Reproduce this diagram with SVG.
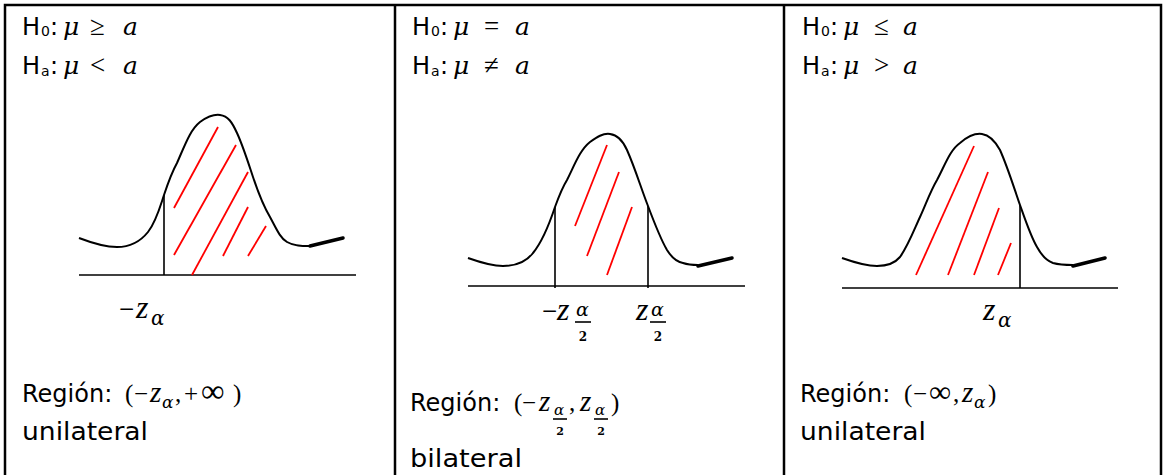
<svg xmlns="http://www.w3.org/2000/svg" width="1164" height="475" viewBox="0 0 1164 475">
<style>
.t{font-family:"DejaVu Sans","Liberation Sans",sans-serif;font-size:24px;fill:#000}
.s{font-family:"DejaVu Sans","Liberation Sans",sans-serif;font-size:14px;fill:#000}
.m{font-family:"DejaVu Serif","Liberation Serif",serif;font-style:italic;font-size:25px;fill:#000}
.z{font-family:"Liberation Serif","DejaVu Serif",serif;font-style:italic;font-size:29px;fill:#000}
.ms{font-family:"DejaVu Serif","Liberation Serif",serif;font-style:italic;font-size:17px;fill:#000}
.o{font-family:"Liberation Serif","DejaVu Serif",serif;font-size:27px;fill:#000}
.d{font-family:"DejaVu Serif","Liberation Serif",serif;font-size:12px;font-weight:bold;fill:#000}
.curve{fill:none;stroke:#000;stroke-width:2}
.tail{fill:none;stroke:#000;stroke-width:3.5;stroke-linecap:round}
.axis{stroke:#000;stroke-width:1.6}
.vl{stroke:#000;stroke-width:1.6}
.hatch{stroke:#ff0000;stroke-width:1.8}
.bar{stroke:#000;stroke-width:1.6}
.frame{fill:none;stroke:#000;stroke-width:2.5}
</style>
<g id="table">
<rect class="frame" x="5" y="5" width="1156" height="475"/>
<line class="frame" x1="395" y1="5" x2="395" y2="475"/>
<line class="frame" x1="784" y1="5" x2="784" y2="475"/>
</g>
<g id="panel1">
<text class="t" x="22" y="35">H</text><text class="s" x="41" y="36">0</text><text class="t" x="50" y="35">:</text>
<text class="m" x="63" y="35">μ</text><text class="o" x="90" y="35">≥</text><text class="m" x="123" y="35">a</text>
<text class="t" x="22" y="74">H</text><text class="s" x="41" y="76">a</text><text class="t" x="50" y="74">:</text>
<text class="m" x="63" y="74">μ</text><text class="o" x="90" y="74">&lt;</text><text class="m" x="123" y="74">a</text>
<line class="axis" x1="79" y1="275" x2="356" y2="275"/>
<line class="vl" x1="164" y1="195" x2="164" y2="275"/>
<path class="curve" d="M79,238 C92,243 105,247 117,247 C130,247 140,242 148,232 C156,222 160,207 164,195 C168,183 172,172 177,163 C185,145 190,130 200,122 C207,117 213,114 220,115 C228,116 232,122 237,133 C243,146 248,162 253,177 C258,192 264,207 270,217 C276,228 280,238 287,242 C294,246 302,246 310,246"/>
<path class="tail" d="M310,246 L343,238"/>
<line class="hatch" x1="174" y1="208" x2="218" y2="127"/>
<line class="hatch" x1="174" y1="255" x2="236" y2="145"/>
<line class="hatch" x1="192" y1="275" x2="248" y2="172"/>
<line class="hatch" x1="223" y1="256" x2="248" y2="207"/>
<line class="hatch" x1="248" y1="256" x2="266" y2="226"/>
<text class="o" x="119" y="318">−</text><text class="z" x="136" y="318" style="font-size:32px">z</text><text class="ms" x="151" y="325" style="font-size:20px">α</text>
<text class="t" x="22" y="402">Región:</text>
<text class="o" x="125" y="402" style="font-size:25px">(</text><text class="o" x="134" y="402" style="font-size:25px">−</text><text class="z" x="150" y="402">z</text><text class="ms" x="162" y="408">α</text><text class="o" x="175" y="402" style="font-size:25px">,</text><text class="o" x="184" y="402" style="font-size:25px">+</text><text class="o" x="201" y="402" style="font-size:33px">∞</text><text class="o" x="233" y="402" style="font-size:25px">)</text>
<text class="t" x="22" y="440" textLength="126" lengthAdjust="spacingAndGlyphs">unilateral</text>
</g>
<g id="panel2">
<text class="t" x="412" y="35">H</text><text class="s" x="431" y="36">0</text><text class="t" x="440" y="35">:</text>
<text class="m" x="453" y="35">μ</text><text class="o" x="484" y="35">=</text><text class="m" x="515" y="35">a</text>
<text class="t" x="412" y="74">H</text><text class="s" x="431" y="76">a</text><text class="t" x="440" y="74">:</text>
<text class="m" x="453" y="74">μ</text><text class="o" x="484" y="74">≠</text><text class="m" x="515" y="74">a</text>
<line class="axis" x1="468" y1="286" x2="745" y2="286"/>
<line class="vl" x1="555" y1="207" x2="555" y2="288"/>
<line class="vl" x1="648" y1="206" x2="648" y2="288"/>
<path class="curve" d="M468,258 C482,263 493,266 503,266 C516,266 526,262 533,253 C542,242 550,222 555,207 C559,196 562,188 567,180 C575,164 580,150 590,142 C597,137 603,133 610,134 C618,135 623,141 627,150 C635,168 641,188 648,206 C654,222 660,238 667,250 C672,258 677,262 683,263 C689,265 694,265 698,265"/>
<path class="tail" d="M698,266 L732,258"/>
<line class="hatch" x1="575" y1="226" x2="607" y2="145"/>
<line class="hatch" x1="587" y1="256" x2="619" y2="172"/>
<line class="hatch" x1="607" y1="275" x2="632" y2="207"/>
<text class="o" x="542" y="320">−</text><text class="z" x="557" y="320" style="font-size:32px">z</text>
<text class="ms" x="576" y="316" style="font-size:19px">α</text><line class="bar" x1="575" y1="322" x2="591" y2="322"/><text class="d" x="583" y="341" text-anchor="middle">2</text>
<text class="z" x="636" y="320" style="font-size:32px">z</text>
<text class="ms" x="651" y="316" style="font-size:19px">α</text><line class="bar" x1="650" y1="322" x2="666" y2="322"/><text class="d" x="658" y="341" text-anchor="middle">2</text>
<text class="t" x="410" y="411">Región:</text>
<text class="o" x="514" y="411" style="font-size:25px">(</text><text class="o" x="522" y="411" style="font-size:25px">−</text><text class="z" x="539" y="411">z</text>
<text class="ms" x="554" y="415" style="font-size:15px">α</text><line class="bar" x1="553" y1="419" x2="567" y2="419"/><text class="d" x="560" y="435" text-anchor="middle" style="font-size:11px">2</text>
<text class="o" x="569" y="411" style="font-size:25px">,</text><text class="z" x="580" y="411">z</text>
<text class="ms" x="595" y="415" style="font-size:15px">α</text><line class="bar" x1="594" y1="419" x2="608" y2="419"/><text class="d" x="601" y="435" text-anchor="middle" style="font-size:11px">2</text>
<text class="o" x="611" y="411" style="font-size:25px">)</text>
<text class="t" x="410" y="467" textLength="112" lengthAdjust="spacingAndGlyphs">bilateral</text>
</g>
<g id="panel3">
<text class="t" x="802" y="35">H</text><text class="s" x="821" y="36">0</text><text class="t" x="830" y="35">:</text>
<text class="m" x="843" y="35">μ</text><text class="o" x="874" y="35">≤</text><text class="m" x="903" y="35">a</text>
<text class="t" x="802" y="74">H</text><text class="s" x="821" y="76">a</text><text class="t" x="830" y="74">:</text>
<text class="m" x="843" y="74">μ</text><text class="o" x="874" y="74">&gt;</text><text class="m" x="903" y="74">a</text>
<line class="axis" x1="842" y1="288" x2="1118" y2="288"/>
<line class="vl" x1="1020" y1="205" x2="1020" y2="288"/>
<path class="curve" d="M842,258 C856,263 867,266 877,266 C888,266 895,263 900,257 C908,246 914,230 920,217 C926,204 930,192 937,180 C945,165 950,150 960,143 C967,137 975,133 982,134 C990,135 995,141 1000,150 C1008,168 1014,188 1020,205 C1026,222 1031,237 1037,247 C1042,256 1047,261 1053,263 C1060,265 1066,265 1073,265"/>
<path class="tail" d="M1073,266 L1105,258"/>
<line class="hatch" x1="916" y1="275" x2="974" y2="146"/>
<line class="hatch" x1="948" y1="275" x2="988" y2="172"/>
<line class="hatch" x1="974" y1="275" x2="999" y2="208"/>
<line class="hatch" x1="998" y1="275" x2="1011" y2="243"/>
<text class="z" x="983" y="320" style="font-size:32px">z</text><text class="ms" x="998" y="327" style="font-size:20px">α</text>
<text class="t" x="800" y="402">Región:</text>
<text class="o" x="904" y="402" style="font-size:25px">(</text><text class="o" x="913" y="402" style="font-size:25px">−</text><text class="o" x="929" y="402" style="font-size:31px">∞</text><text class="o" x="953" y="402" style="font-size:25px">,</text><text class="z" x="962" y="402">z</text><text class="ms" x="974" y="408">α</text><text class="o" x="988" y="402" style="font-size:25px">)</text>
<text class="t" x="800" y="440" textLength="126" lengthAdjust="spacingAndGlyphs">unilateral</text>
</g>
</svg>
